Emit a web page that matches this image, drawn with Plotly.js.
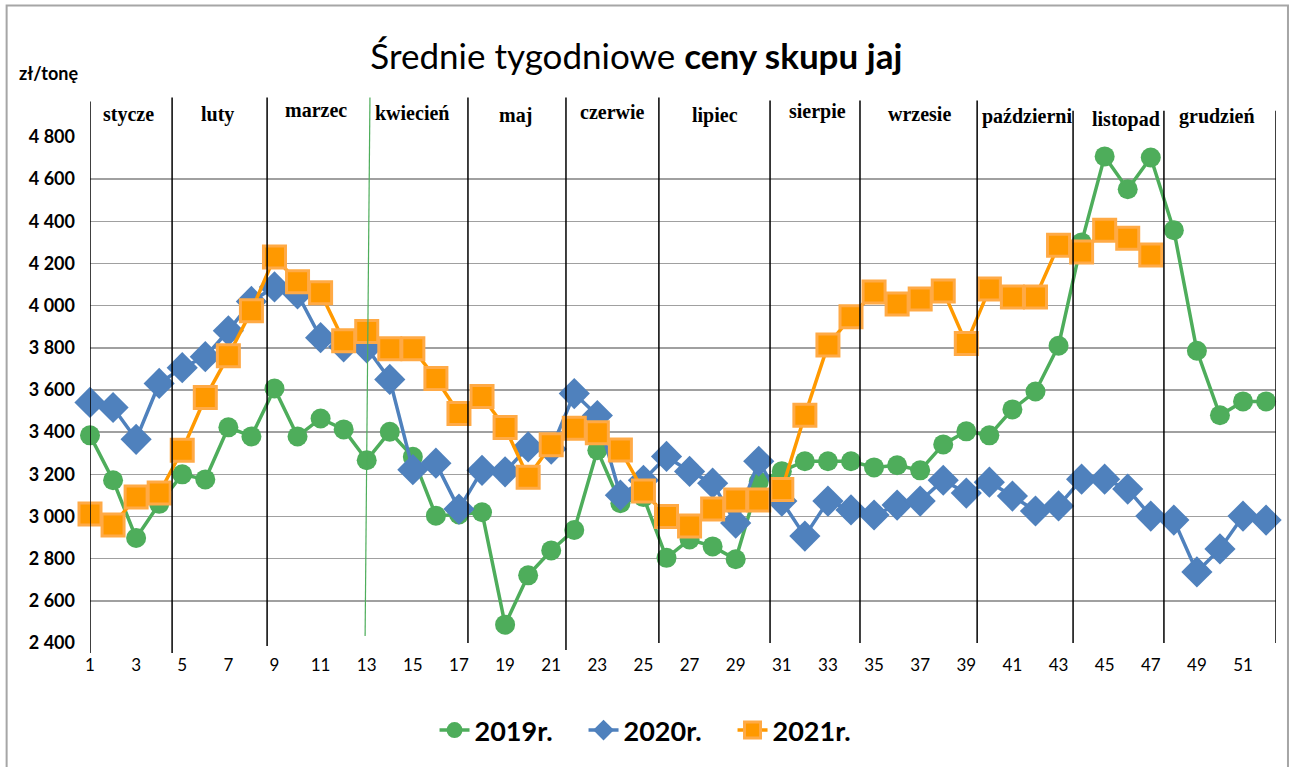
<!DOCTYPE html>
<html>
<head>
<meta charset="utf-8">
<script src="https://cdn.plot.ly/plotly-3.0.1.min.js"></script>
<style>html,body{margin:0;padding:0;background:#fff;}#chart{width:1296px;height:767px;}</style>
</head>
<body>
<div id="chart"></div>
<script>
// ---- data ----
const weeks = [1,2,3,4,5,6,7,8,9,10,11,12,13,14,15,16,17,18,19,20,21,22,23,24,25,26,
  27,28,29,30,31,32,33,34,35,36,37,38,39,40,41,42,43,44,45,46,47,48,49,50,51,52];
const weeks2021 = [1,2,3,4,5,6,7,8,9,10,11,12,13,14,15,16,17,18,19,20,21,22,23,24,25,26,
  27,28,29,30,31,32,33,34,35,36,37,38,39,40,41,42,43,44,45,46,47];
const y2019 = [3385,3172,2898,3060,3200,3176,3423,3380,3607,3380,3465,3413,3267,3402,3283,3004,
  3010,3020,2487,2721,2839,2936,3314,3063,3092,2804,2891,2858,2797,3165,3215,3262,3262,3262,
  3233,3243,3219,3342,3404,3385,3508,3593,3810,4300,4708,4552,4703,4358,3786,3480,3546,3546];
const y2020 = [3541,3517,3366,3631,3706,3758,3881,4020,4089,4056,3848,3805,3800,3650,3222,3253,
  3035,3219,3212,3330,3320,3583,3479,3101,3172,3285,3214,3158,2969,3262,3073,2907,3073,3031,
  3007,3054,3073,3172,3111,3163,3097,3026,3050,3177,3177,3130,3002,2983,2737,2846,3002,2983];
const y2021 = [3012,2960,3092,3111,3314,3564,3763,3976,4231,4113,4061,3834,3877,3796,3796,3654,
  3489,3569,3422,3186,3340,3418,3397,3316,3121,3000,2955,3035,3078,3078,3128,3480,3813,3947,
  4065,4008,4032,4070,3820,4079,4041,4041,4287,4254,4358,4320,4240];
const seriesNames = ['2019r.','2020r.','2021r.'];
const monthLabels = ['stycze','luty','marzec','kwiecień','maj','czerwie','lipiec','sierpie',
  'wrzesie','październi','listopad','grudzień'];
const xTickVals = [1,3,5,7,9,11,13,15,17,19,21,23,25,27,29,31,33,35,37,39,41,43,45,47,49,51];
const xTickText = ['1','3','5','7','9','11','13','15','17','19','21','23','25','27','29','31',
  '33','35','37','39','41','43','45','47','49','51'];
const yTickVals = [2400,2600,2800,3000,3200,3400,3600,3800,4000,4200,4400,4600,4800];

// ---- layout positions (decorations) ----
const monthLabelX = [2.65,6.51,10.8,14.96,19.47,23.64,28.1,32.53,36.99,41.63,45.93,49.87];
const monthLabelY = [1.045,1.045,1.053,1.047,1.043,1.049,1.043,1.051,1.045,1.041,1.035,1.041];
const separatorX = [1.0,4.56,8.68,17.39,21.64,25.67,30.49,34.39,39.47,43.63,47.57,52.43];
const separatorTop = [1.07,1.078,1.078,1.078,1.078,1.078,1.072,1.072,1.072,1.052,1.052,1.052];
const separatorBot = [-0.02,-0.02,-0.006,0,-0.014,0,0,0,0,0,0,0];

const green = 'rgb(78,173,91)', blue = 'rgb(79,129,189)', orange = 'rgb(255,153,0)';

const traces = [
  {x: weeks, y: y2019, name: seriesNames[0], type: 'scatter', mode: 'lines+markers', cliponaxis: false,
   line: {color: green, width: 3.5}, marker: {symbol: 'circle', size: 20, color: green}},
  {x: weeks, y: y2020, name: seriesNames[1], type: 'scatter', mode: 'lines+markers', cliponaxis: false,
   line: {color: blue, width: 3.5}, marker: {symbol: 'diamond', size: 24, color: blue}},
  {x: weeks2021, y: y2021, name: seriesNames[2], type: 'scatter', mode: 'lines+markers', cliponaxis: false,
   line: {color: orange, width: 3.5}, marker: {symbol: 'square', size: 22, color: orange,
   line: {color: 'rgb(255,170,70)', width: 3}}}
];

const shapes = [];
separatorX.forEach((sx, i) => {
  shapes.push({type: 'line', xref: 'x', yref: 'paper', x0: sx, x1: sx, y0: separatorBot[i], y1: separatorTop[i],
    line: {color: '#000', width: 1.5}, layer: 'above'});
});
// green April separator (slightly slanted)
shapes.push({type: 'line', xref: 'x', yref: 'paper', x0: 13.14, x1: 12.93, y0: 1.078, y1: 0.014,
  line: {color: 'rgb(78,173,91)', width: 1.2}, layer: 'above'});
// outer border
shapes.push({type: 'rect', xref: 'paper', yref: 'paper', x0: -0.0703, x1: 1.0101, y0: -0.3, y1: 1.26,
  line: {color: '#a6a6a6', width: 2}, fillcolor: 'rgba(0,0,0,0)', layer: 'below'});

const annotations = monthLabels.map((t, i) => ({
  text: '<b>' + t + '</b>', x: monthLabelX[i], y: monthLabelY[i], xref: 'x', yref: 'paper',
  showarrow: false, xanchor: 'center', yanchor: 'middle',
  font: {family: 'Liberation Serif, serif', size: 20, color: '#000'}
}));
annotations.push({text: '<b>zł/tonę</b>', xref: 'paper', yref: 'paper', x: -0.0354, y: 1.126,
  showarrow: false, xanchor: 'center', yanchor: 'middle',
  font: {family: 'Lato, sans-serif', size: 18, color: '#000'}});

const layout = {
  width: 1296, height: 767,
  margin: {l: 90, r: 20, t: 137, b: 122},
  paper_bgcolor: '#fff', plot_bgcolor: '#fff',
  separators: ', ',
  showlegend: true,
  title: {text: 'Średnie tygodniowe <b>ceny skupu jaj</b>', x: 0.491, y: 0.926, xanchor: 'center', yanchor: 'middle',
    xref: 'container', yref: 'container',
    font: {family: 'Lato, sans-serif', size: 35, color: '#000'}},
  xaxis: {range: [1, 52.43], tickvals: xTickVals, ticktext: xTickText, showgrid: false, zeroline: false,
    showline: false, ticks: '', ticklabelstandoff: 10,
    tickfont: {family: 'Lato, sans-serif', size: 17, color: '#000'}},
  yaxis: {range: [2400, 4800], tickvals: yTickVals, tickformat: ',d', showgrid: true, gridcolor: '#a0a0a0',
    gridwidth: 1.5, zeroline: false, showline: false, ticks: '', ticklabelstandoff: 14,
    tickfont: {family: 'Lato, sans-serif', size: 18, color: '#000', weight: 'bold'}},
  legend: {orientation: 'h', x: 0.2905, xanchor: 'left', y: -0.173, yanchor: 'middle',
    entrywidth: 104, entrywidthmode: 'pixels',
    font: {family: 'Lato, sans-serif', size: 27, color: '#000', weight: 'bold'}},
  shapes: shapes,
  annotations: annotations
};

Plotly.newPlot('chart', traces, layout, {displayModeBar: false, staticPlot: true});
</script>
</body>
</html>
